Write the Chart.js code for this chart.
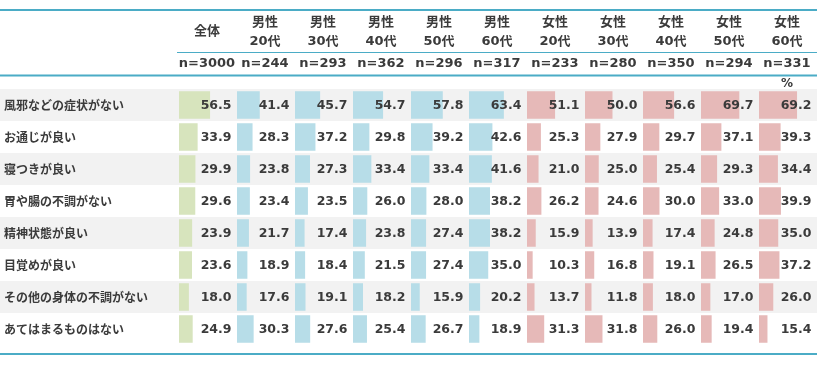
<!DOCTYPE html>
<html><head><meta charset="utf-8">
<script src="https://cdn.jsdelivr.net/npm/chart.js@4/dist/chart.umd.min.js"></script>
<style>html,body{margin:0;padding:0;background:#fff;}canvas{display:block;}</style>
</head><body>
<canvas id="c" width="817" height="371"></canvas>
<script>
const rowLabels = ['風邪などの症状がない','お通じが良い','寝つきが良い','胃や腸の不調がない','精神状態が良い','目覚めが良い','その他の身体の不調がない','あてはまるものはない'];
const headTop = ['全体','男性','男性','男性','男性','男性','女性','女性','女性','女性','女性'];
const headBottom = ['','20代','30代','40代','50代','60代','20代','30代','40代','50代','60代'];
const nLabels = ['n=3000','n=244','n=293','n=362','n=296','n=317','n=233','n=280','n=350','n=294','n=331'];

const total   = [56.5, 33.9, 29.9, 29.6, 23.9, 23.6, 18.0, 24.9];
const male20  = [41.4, 28.3, 23.8, 23.4, 21.7, 18.9, 17.6, 30.3];
const male30  = [45.7, 37.2, 27.3, 23.5, 17.4, 18.4, 19.1, 27.6];
const male40  = [54.7, 29.8, 33.4, 26.0, 23.8, 21.5, 18.2, 25.4];
const male50  = [57.8, 39.2, 33.4, 28.0, 27.4, 27.4, 15.9, 26.7];
const male60  = [63.4, 42.6, 41.6, 38.2, 38.2, 35.0, 20.2, 18.9];
const female20 = [51.1, 25.3, 21.0, 26.2, 15.9, 10.3, 13.7, 31.3];
const female30 = [50.0, 27.9, 25.0, 24.6, 13.9, 16.8, 11.8, 31.8];
const female40 = [56.6, 29.7, 25.4, 30.0, 17.4, 19.1, 18.0, 26.0];
const female50 = [69.7, 37.1, 29.3, 33.0, 24.8, 26.5, 17.0, 19.4];
const female60 = [69.2, 39.3, 34.4, 39.9, 35.0, 37.2, 26.0, 15.4];

const columns = [total, male20, male30, male40, male50, male60, female20, female30, female40, female50, female60];
const colColors = ['#d7e4bd','#b7dde8','#b7dde8','#b7dde8','#b7dde8','#b7dde8','#e6b9b8','#e6b9b8','#e6b9b8','#e6b9b8','#e6b9b8'];

const TEXT = '#3b3b3b';
const LINE = '#4bacc6';
const NUMFONT = 'bold 12.5px "DejaVu Sans", "Noto Sans CJK JP", sans-serif';
const HEADFONT = 'bold 13px "DejaVu Sans", "Noto Sans CJK JP", sans-serif';

const scales = {
  y: {
    type: 'category',
    position: 'left',
    grid: {display: false},
    border: {display: false},
    ticks: {crossAlign: 'far', padding: 0, color: TEXT, font: {family: '"Noto Sans CJK JP", sans-serif', size: 12, weight: 'bold'}},
    afterFit: s => { s.width = 175; }
  }
};
columns.forEach((c, i) => {
  scales['x' + i] = {type: 'linear', position: 'bottom', stack: 'cols', min: 0, max: 105.5, display: false};
});

const datasets = columns.map((c, i) => ({
  data: c,
  xAxisID: 'x' + i,
  yAxisID: 'y',
  backgroundColor: colColors[i],
  borderWidth: 0,
  grouped: false,
  categoryPercentage: 0.86,
  barPercentage: 1
}));

const tablePlugin = {
  id: 'table',
  beforeDraw(chart) {
    const ctx = chart.ctx, y = chart.scales.y;
    const h = (y.bottom - y.top) / rowLabels.length;
    ctx.save();
    ctx.fillStyle = '#fff';
    ctx.fillRect(0, 0, chart.width, chart.height);
    ctx.fillStyle = '#f2f2f2';
    rowLabels.forEach((l, i) => {
      if (i % 2 === 0) {
        const c = y.getPixelForValue(i);
        ctx.fillRect(0, c - h / 2, chart.width, h);
      }
    });
    ctx.restore();
  },
  afterDatasetsDraw(chart) {
    const ctx = chart.ctx, y = chart.scales.y;
    ctx.save();
    ctx.font = NUMFONT;
    ctx.fillStyle = TEXT;
    ctx.textAlign = 'right';
    ctx.textBaseline = 'middle';
    columns.forEach((c, i) => {
      const sx = chart.scales['x' + i];
      c.forEach((v, r) => {
        ctx.fillText(v.toFixed(1), sx.right - 5.5, y.getPixelForValue(r) + 1);
      });
    });
    ctx.restore();
  },
  afterDraw(chart) {
    const ctx = chart.ctx, W = chart.width;
    const first = chart.scales.x0;
    ctx.save();
    ctx.strokeStyle = LINE;
    ctx.lineWidth = 2;
    ctx.beginPath(); ctx.moveTo(0, 10); ctx.lineTo(W, 10); ctx.stroke();
    ctx.beginPath(); ctx.moveTo(0, 75.5); ctx.lineTo(W, 75.5); ctx.stroke();
    ctx.beginPath(); ctx.moveTo(0, 354); ctx.lineTo(W, 354); ctx.stroke();
    ctx.lineWidth = 1.2;
    ctx.beginPath(); ctx.moveTo(first.left - 2, 52.5); ctx.lineTo(W, 52.5); ctx.stroke();
    ctx.fillStyle = TEXT;
    ctx.textAlign = 'center';
    ctx.textBaseline = 'middle';
    ctx.font = HEADFONT;
    columns.forEach((c, i) => {
      const sx = chart.scales['x' + i];
      const cx = (sx.left + sx.right) / 2 - 1;
      if (headBottom[i]) {
        ctx.fillText(headTop[i], cx, 23);
        ctx.fillText(headBottom[i], cx, 42);
      } else {
        ctx.fillText(headTop[i], cx, 32);
      }
      ctx.fillText(nLabels[i], cx, 64);
    });
    const last = chart.scales['x' + (columns.length - 1)];
    ctx.font = 'bold 12px "DejaVu Sans", sans-serif';
    ctx.fillText('%', (last.left + last.right) / 2 - 1, 84);
    ctx.restore();
  }
};

new Chart(document.getElementById('c'), {
  type: 'bar',
  data: {labels: rowLabels, datasets},
  options: {
    indexAxis: 'y',
    responsive: false,
    animation: false,
    devicePixelRatio: 1,
    layout: {padding: {top: 89, bottom: 26, left: 4, right: 0}},
    plugins: {legend: {display: false}, tooltip: {enabled: false}, title: {display: false}},
    scales
  },
  plugins: [tablePlugin]
});
</script>
</body></html>
